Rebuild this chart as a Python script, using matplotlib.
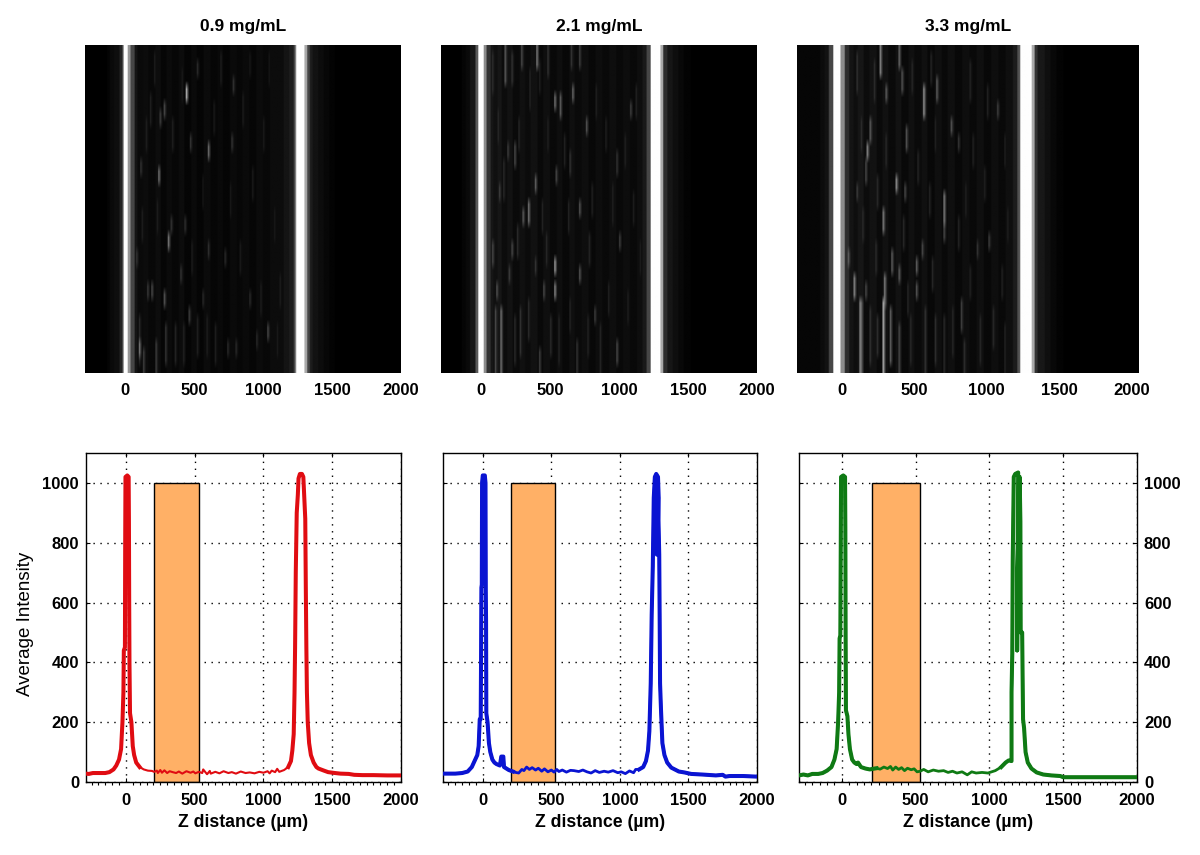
import numpy as np
import matplotlib
matplotlib.use('Agg')
import matplotlib.pyplot as plt
from matplotlib.ticker import MultipleLocator

plt.rcParams['font.family'] = ['Liberation Sans', 'DejaVu Sans']

titles = ['0.9 mg/mL', '2.1 mg/mL', '3.3 mg/mL']
line_colors = ['#e00c12', '#0a14d2', '#0f7a14']
xticks = [0, 500, 1000, 1500, 2000]
yticks = [0, 200, 400, 600, 800, 1000]
bar_left = 205
bar_right = 530
bar_height = 1000

# averaged intensity profiles
z1 = [-290, -270, -240, -200, -150, -120, -90, -70, -50, -35, -25, -18, -15, -7, -5, -3, 10, 20, 22, 24, 26, 30, 40, 50, 60, 75, 100, 130, 160, 190,
      205, 225, 232, 250, 262, 280, 300, 318, 340, 365, 385, 410, 440, 470, 490, 505, 530, 555, 562, 590, 610, 617, 650, 680, 710, 745, 770, 800, 835, 870, 900, 935, 970, 1000, 1030, 1045, 1060, 1085, 1100, 1115,
      1150, 1180, 1200, 1210, 1220, 1226, 1230, 1235, 1242, 1250, 1255, 1265, 1280, 1290, 1297, 1304, 1308, 1312, 1316, 1322, 1332, 1345, 1365, 1385, 1400, 1440, 1470, 1520, 1560, 1620, 1660, 1720, 1800, 1900, 2000]
y1 = [28, 27, 30, 30, 30, 33, 42, 55, 75, 110, 200, 300, 440, 450, 800, 1020, 1025, 1020, 880, 600, 400, 230, 200, 120, 90, 65, 50, 42, 38, 37,
      34, 38, 30, 40, 31, 39, 30, 36, 33, 30, 35, 28, 36, 31, 35, 29, 34, 30, 42, 26, 37, 28, 34, 29, 36, 30, 33, 28, 35, 30, 32, 29, 34, 31, 36, 29, 38, 33, 44, 34,
      40, 50, 70, 105, 160, 300, 450, 700, 900, 960, 1015, 1030, 1030, 1020, 950, 880, 650, 450, 300, 200, 130, 90, 65, 50, 45, 38, 33, 30, 28, 27, 24, 23, 23, 22, 22]

z2 = [-290, -200, -150, -110, -80, -60, -40, -30, -22, -15, -12, -10, -7, -5, 0, 15, 20, 22, 24, 26, 35, 45, 55, 70, 85, 100, 125, 135, 150, 155, 190, 220,
      240, 262, 285, 300, 320, 340, 360, 385, 405, 430, 450, 475, 500, 520, 540, 555, 580, 610, 640, 665, 700, 730, 760, 790, 820, 850, 885, 915, 950, 985, 1010, 1040, 1070, 1100, 1115,
      1140, 1170, 1190, 1205, 1215, 1225, 1232, 1240, 1247, 1255, 1265, 1278, 1283, 1270, 1262, 1265, 1278, 1287, 1290, 1293, 1300, 1310, 1325, 1345, 1375, 1430, 1470, 1520, 1600, 1700, 1750, 1770, 1800, 1900, 2000]
y2 = [28, 28, 30, 35, 50, 70, 90, 120, 210, 210, 450, 650, 660, 1000, 1025, 1025, 1000, 640, 540, 230, 200, 130, 100, 75, 65, 60, 55, 85, 85, 50, 40, 35,
      32, 30, 42, 38, 50, 42, 48, 40, 46, 36, 44, 34, 40, 33, 42, 35, 40, 33, 39, 38, 35, 40, 34, 30, 38, 32, 36, 33, 38, 31, 34, 28, 37, 31, 42,
      42, 50, 70, 105, 170, 330, 560, 720, 950, 1020, 1030, 1020, 950, 760, 1000, 1020, 950, 760, 560, 330, 240, 130, 90, 65, 48, 35, 32, 27, 25, 22, 24, 18, 20, 20, 18]

z3 = [-290, -260, -230, -200, -160, -130, -100, -70, -50, -35, -25, -18, -15, -10, -7, -5, 10, 22, 24, 26, 28, 38, 45, 55, 70, 85, 100, 110, 130, 160, 190,
      210, 235, 260, 285, 310, 330, 345, 365, 385, 405, 425, 445, 470, 490, 510, 530, 555, 585, 620, 655, 690, 720, 750, 780, 815, 850, 880, 910, 950, 990,
      1040, 1080, 1110, 1130, 1150, 1150, 1155, 1158, 1165, 1175, 1195, 1190, 1188, 1190, 1205, 1210, 1212, 1222, 1228, 1235, 1245, 1260, 1285, 1320, 1365, 1420, 1480, 1500, 1750, 2000]
y3 = [22, 25, 22, 27, 27, 30, 38, 50, 75, 110, 200, 300, 480, 490, 800, 1020, 1025, 1020, 850, 480, 240, 220, 160, 110, 75, 65, 60, 65, 50, 45, 42,
      44, 46, 43, 50, 45, 52, 40, 50, 42, 48, 38, 46, 41, 44, 34, 36, 42, 34, 40, 36, 38, 32, 36, 30, 34, 24, 34, 30, 32, 30,
      38, 50, 65, 72, 70, 300, 430, 740, 1020, 1030, 1035, 700, 440, 700, 1020, 870, 500, 500, 210, 180, 100, 65, 45, 32, 25, 22, 20, 16, 16, 16]

interiors = [(120, 1150), (240, 1130), (240, 1060)]
thin_widths = [1.5, 2.0, 2.0]
profiles_z = [z1, z2, z3]
profiles_y = [y1, y2, y3]

# column grey levels of the image panels: right edge of each band, then grey
edges1 = [-135, -110, -80, -44, -25, -10, 20, 35, 65, 90, 130, 170, 215, 255, 300, 340, 385, 430, 480, 520, 570, 615, 665, 710, 760, 805, 850, 900, 950, 1000, 1050, 1100, 1150, 1190, 1215, 1230, 1244, 1302, 1320, 1340, 1360, 1400, 1440, 1480, 1520, 2060]
greys1 = [0, 4, 10, 14, 35, 90, 254, 150, 70, 20, 10, 12, 8, 13, 6, 11, 7, 12, 5, 10, 5, 11, 6, 9, 5, 10, 7, 10, 6, 11, 8, 12, 12, 20, 30, 50, 120, 255, 170, 70, 28, 18, 12, 7, 3, 0]
edges2 = [-140, -110, -80, -40, -25, 24, 40, 65, 90, 120, 150, 190, 230, 275, 320, 360, 410, 450, 500, 545, 590, 640, 680, 730, 780, 830, 880, 930, 980, 1030, 1080, 1130, 1170, 1200, 1226, 1300, 1323, 1345, 1390, 1430, 1470, 1520, 2060]
greys2 = [0, 5, 10, 22, 90, 254, 140, 50, 22, 16, 22, 12, 18, 10, 16, 11, 17, 9, 15, 9, 14, 8, 15, 10, 14, 8, 13, 9, 14, 9, 13, 9, 14, 25, 70, 254, 170, 45, 22, 14, 8, 3, 0]
edges3 = [-311, -150, -120, -90, -60, -12, 20, 45, 75, 110, 150, 190, 235, 275, 320, 365, 410, 455, 500, 545, 590, 640, 685, 730, 780, 830, 880, 930, 980, 1030, 1080, 1130, 1180, 1210, 1231, 1307, 1328, 1350, 1395, 1440, 1480, 1530, 2060]
greys3 = [0, 6, 12, 18, 70, 254, 140, 45, 20, 14, 22, 12, 18, 10, 17, 10, 18, 9, 16, 10, 16, 8, 15, 9, 15, 8, 14, 9, 15, 8, 14, 9, 15, 28, 80, 254, 170, 50, 24, 15, 8, 3, 0]
band_edges = [edges1, edges2, edges3]
band_greys = [greys1, greys2, greys3]

# bright speckles: z, first row, last row, grey (rows count from the top, 40 in all)
spots1 = [(446, 5, 6, 170), (606, 12, 13, 100), (247, 15, 16, 110), (315, 23, 24, 110), (101, 36, 37, 110), (1035, 34, 35, 70),
          (286, 7, 8, 70), (259, 8, 9, 60), (198, 29, 30, 70), (283, 30, 31, 80), (465, 32, 33, 60), (114, 14, 15, 50),
          (780, 4, 5, 50), (526, 2, 3, 40), (773, 11, 12, 50), (477, 11, 12, 50), (332, 21, 22, 50), (436, 21, 22, 45),
          (162, 29, 30, 55), (606, 24, 25, 45), (727, 25, 26, 40), (82, 25, 26, 50), (400, 27, 28, 50), (562, 30, 31, 40),
          (901, 30, 31, 40), (223, 36, 39, 60), (295, 34, 38, 50), (804, 36, 37, 40), (950, 35, 36, 40), (744, 36, 37, 40),
          (138, 37, 39, 60), (101, 33, 38, 40), (360, 34, 38, 35), (520, 33, 37, 30), (650, 34, 38, 30),
          (180, 6, 9, 30), (340, 9, 12, 30), (410, 3, 6, 25), (560, 16, 19, 22), (640, 7, 10, 25), (690, 1, 4, 28),
          (850, 6, 9, 28), (920, 15, 18, 25), (1000, 9, 12, 25), (1080, 20, 23, 25), (1120, 28, 31, 28), (230, 19, 22, 28),
          (480, 24, 27, 28), (830, 24, 27, 26), (980, 29, 32, 28), (590, 33, 37, 30), (420, 34, 38, 32), (1100, 34, 37, 25),
          (150, 9, 12, 30), (900, 1, 3, 22), (210, 1, 4, 28), (120, 20, 23, 30), (760, 17, 20, 24), (1040, 1, 4, 22)]
spots2 = [(531, 26, 27, 150), (531, 29, 30, 130), (342, 19, 21, 110), (306, 20, 21, 90), (398, 16, 17, 90), (531, 6, 7, 110),
          (577, 6, 8, 90), (669, 5, 6, 100), (761, 9, 10, 80), (407, 0, 2, 120), (172, 0, 4, 90), (1081, 7, 8, 60),
          (245, 12, 14, 70), (197, 12, 13, 60), (543, 15, 16, 70), (718, 19, 20, 80), (713, 27, 28, 80), (221, 24, 25, 70),
          (112, 29, 30, 80), (148, 32, 39, 110), (209, 27, 28, 60), (451, 29, 30, 70), (827, 32, 33, 60), (984, 36, 38, 70),
          (1009, 23, 24, 60), (390, 26, 27, 50), (87, 24, 26, 70), (136, 17, 18, 60), (984, 13, 15, 50), (645, 13, 15, 50),
          (293, 0, 2, 70), (487, 0, 3, 50), (713, 0, 2, 60), (657, 0, 2, 50), (427, 37, 39, 60), (281, 32, 37, 50), (693, 36, 39, 50),
          (100, 32, 39, 70), (240, 33, 38, 40), (560, 33, 38, 35), (860, 34, 39, 35),
          (87, 1, 5, 45), (221, 1, 4, 50), (350, 3, 7, 35), (120, 8, 11, 40), (270, 9, 12, 38), (480, 9, 12, 32), (600, 11, 14, 32),
          (830, 5, 8, 32), (900, 9, 12, 30), (1040, 11, 14, 32), (1120, 5, 8, 34), (160, 14, 18, 40), (440, 19, 22, 34), (630, 19, 22, 35),
          (800, 17, 20, 32), (950, 17, 21, 32), (1100, 18, 21, 28), (260, 22, 25, 42), (470, 23, 26, 38), (780, 23, 26, 36), (1150, 24, 27, 28),
          (340, 31, 35, 42), (500, 33, 37, 40), (640, 31, 34, 36), (770, 33, 37, 34), (920, 29, 32, 32), (1060, 30, 33, 30), (420, 2, 5, 30)]
spots3 = [(562, 5, 8, 140), (655, 4, 6, 90), (263, 0, 3, 130), (390, 0, 2, 100), (413, 3, 5, 80), (304, 5, 6, 90),
          (189, 9, 11, 90), (171, 12, 13, 130), (443, 10, 12, 80), (751, 9, 10, 80), (378, 16, 17, 140), (159, 14, 16, 70),
          (705, 18, 21, 120), (281, 20, 22, 120), (701, 22, 23, 70), (83, 28, 30, 130), (297, 28, 31, 120), (343, 25, 27, 90),
          (390, 27, 28, 90), (512, 26, 27, 90), (512, 29, 30, 80), (44, 25, 26, 90), (159, 29, 30, 70), (551, 24, 25, 70),
          (1012, 23, 24, 60), (1069, 7, 8, 60), (436, 17, 18, 70), (101, 17, 18, 60), (804, 11, 12, 50), (931, 24, 25, 50),
          (827, 31, 34, 60), (120, 31, 39, 130), (129, 31, 39, 100), (286, 31, 39, 170), (332, 32, 38, 90), (390, 34, 39, 70),
          (574, 32, 39, 50), (194, 32, 38, 50), (839, 36, 39, 45), (1046, 32, 36, 40), (470, 33, 38, 40), (700, 33, 39, 40),
          (100, 1, 5, 48), (220, 2, 6, 42), (480, 2, 5, 38), (610, 1, 4, 36), (880, 2, 6, 34), (1000, 5, 8, 32), (130, 9, 12, 42), (300, 11, 14, 40),
          (520, 13, 16, 36), (640, 9, 12, 32), (900, 11, 14, 32), (1120, 11, 14, 30), (240, 16, 19, 40), (600, 17, 20, 34), (850, 17, 20, 32),
          (980, 15, 18, 30), (140, 20, 23, 42), (420, 21, 24, 38), (800, 21, 24, 34), (1140, 20, 23, 30), (230, 24, 27, 42), (620, 26, 29, 38),
          (880, 27, 30, 32), (1100, 27, 30, 32), (450, 29, 32, 38), (640, 33, 38, 45), (760, 32, 37, 38), (950, 33, 38, 38), (1120, 34, 39, 34), (240, 33, 37, 45)]
image_spots = [spots1, spots2, spots3]

image_xlims = [(-290, 2000), (-290, 2000), (-311, 2054)]
n_rows = 40
cell = 10


def pixel_axes(fig, left, top, right, bottom):
    return fig.add_axes([left / 1200, 1 - bottom / 855, (right - left) / 1200, (bottom - top) / 855])


def build_image(edges, greys, spots, zmin, zmax):
    centers = np.arange(zmin + cell / 2, zmax, cell)
    idx = np.searchsorted(edges, centers)
    column = np.array(greys, dtype=float)[np.clip(idx, 0, len(greys) - 1)]
    img = np.tile(column, (n_rows, 1))
    for z, r0, r1, g in spots:
        col = int((z - zmin) / cell)
        img[r0:r1 + 1, col] = np.maximum(img[r0:r1 + 1, col], g)
        img[r0:r1 + 1, col + 1] = np.maximum(img[r0:r1 + 1, col + 1], g * 0.5)
    return img


fig = plt.figure(figsize=(12, 8.55), dpi=100)

top_boxes = [(85, 45, 401, 373), (441, 45, 757, 373), (797, 45, 1139, 373)]
low_boxes = [(86, 453, 401, 782), (443, 453, 757, 782), (799, 453, 1137, 782)]

for i in range(3):
    # image row
    ax = pixel_axes(fig, *top_boxes[i])
    zmin, zmax = image_xlims[i]
    img = build_image(band_edges[i], band_greys[i], image_spots[i], zmin, zmax)
    ax.imshow(img, cmap='gray', vmin=0, vmax=255, aspect='auto', interpolation='bilinear',
              extent=(zmin, zmax, n_rows, 0))
    ax.set_xlim(zmin, zmax)
    ax.set_yticks([])
    ax.set_xticks(xticks)
    ax.tick_params(axis='x', length=0, pad=7, labelsize=12)
    for lab in ax.get_xticklabels():
        lab.set_fontweight('bold')
    for s in ax.spines.values():
        s.set_visible(False)
    ax.set_title(titles[i], fontsize=12.5, fontweight='bold', pad=10)

    # profile row
    ax = pixel_axes(fig, *low_boxes[i])
    ax.set_xlim(-290, 2000)
    ax.set_ylim(0, 1100)
    ax.set_xticks(xticks)
    ax.set_yticks(yticks)
    ax.xaxis.set_minor_locator(MultipleLocator(50))
    ax.grid(True, which='major', color='black', linestyle=(0, (1, 4)), linewidth=1)
    ax.set_axisbelow(True)
    ax.bar(bar_left, bar_height, bar_right - bar_left, align='edge', color='#ffb066',
           edgecolor='black', linewidth=1, zorder=2)
    z = np.array(profiles_z[i])
    y = np.array(profiles_y[i])
    lo, hi = interiors[i]
    ax.plot(z, y, color=line_colors[i], linewidth=thin_widths[i], zorder=3, solid_joinstyle='round')
    ax.plot(np.where(z < lo, z, np.nan), y, color=line_colors[i], linewidth=2.9, zorder=3, solid_joinstyle='round')
    ax.plot(np.where(z > hi, z, np.nan), y, color=line_colors[i], linewidth=2.9, zorder=3, solid_joinstyle='round')
    ax.tick_params(axis='x', which='major', direction='in', top=True, length=3, pad=8, labelsize=12)
    ax.tick_params(axis='x', which='minor', direction='out', length=2, width=0.8)
    ax.tick_params(axis='y', which='major', direction='in', left=True, right=True, length=3, pad=5, labelsize=12)
    for s in ax.spines.values():
        s.set_linewidth(1)
    ax.set_xlabel('Z distance (\u00b5m)', fontsize=12.7, fontweight='bold', labelpad=4)
    if i == 0:
        ax.set_ylabel('Average Intensity', fontsize=13.5)
        ax.yaxis.set_label_coords(-0.165, 0.48)
    elif i == 1:
        ax.tick_params(axis='y', labelleft=False)
    else:
        ax.tick_params(axis='y', labelleft=False, labelright=True)
    for lab in ax.get_xticklabels() + ax.get_yticklabels():
        lab.set_fontweight('bold')
    for t in ax.yaxis.get_major_ticks():
        t.label2.set_fontweight('bold')

fig.savefig('out.png', dpi=100)
